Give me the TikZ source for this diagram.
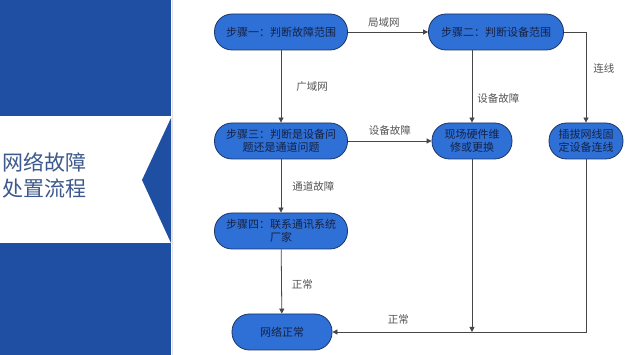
\documentclass[tikz,border=0pt]{standalone}
\usepackage{fontspec}
\newfontfamily\cjk{Noto Sans CJK SC}
\usetikzlibrary{arrows.meta}
\definecolor{panel}{RGB}{31,79,163}
\definecolor{nodefill}{RGB}{46,112,214}
\definecolor{nodeline}{RGB}{28,52,100}
\definecolor{nodetext}{RGB}{22,34,70}
\definecolor{lblc}{RGB}{85,85,85}
\definecolor{titlec}{RGB}{60,88,140}
\definecolor{linec}{RGB}{70,70,70}
\begin{document}
\begin{tikzpicture}[x=1pt,y=-1pt,
  box/.style={draw=nodeline, line width=0.8pt, fill=nodefill, rounded corners=17.5pt,
    minimum height=36pt, inner sep=0pt, align=center, text=nodetext,
    font=\cjk\fontsize{11}{13}\selectfont},
  lbl/.style={text=lblc, inner sep=1pt, font=\cjk\fontsize{10.5}{12}\selectfont},
  conn/.style={draw=linec, line width=0.8pt, -{Triangle[length=5pt,width=5pt]}},
  plain/.style={draw=linec, line width=0.8pt}]
\useasboundingbox (0,0) rectangle (640,355);
\fill[white] (0,0) rectangle (640,355);
% left panel
\fill[panel] (0,0) rectangle (171,355);
\fill[white] (0,116) rectangle (171,243);
\fill[panel] (171,118) -- (142,180) -- (171,243) -- cycle;
\draw[black!12, line width=0.6pt] (172,0) -- (172,355);
\node[anchor=west, align=left, text=titlec, inner sep=0pt,
  font=\cjk\fontsize{21}{26}\selectfont] (title) at (2,175) {网络故障\\处置流程};
% nodes
\node[box, minimum width=133pt] (s1) at (281,32) {步骤一：判断故障范围};
\node[box, minimum width=135pt] (s2) at (496,32) {步骤二：判断设备范围};
\node[box, minimum width=133pt] (s3) at (281,141) {步骤三：判断是设备问\\题还是通道问题};
\node[box, minimum width=80pt] (hw) at (472,141) {现场硬件维\\修或更换};
\node[box, minimum width=74pt] (plug) at (586,141) {插拔网线固\\定设备连线};
\node[box, minimum width=133pt] (s4) at (281,231) {步骤四：联系通讯系统\\厂家};
\node[box, minimum width=100pt] (ok) at (282,332) {网络正常};
\coordinate (hwend) at (hw.south |- ok.east);
% connectors
\draw[conn] (s1) -- node[lbl, above=3pt, pos=0.45] {局域网} (s2);
\draw[conn] (s1) -- node[lbl, right=14pt, pos=0.5] {广域网} (s3);
\draw[conn] (s2.south -| hw) -- node[lbl, right=4pt, pos=0.66] {设备故障} (hw);
\draw[conn] (s2.east) -| node[lbl, right=6pt, pos=0.7] {连线} (plug.north);
\draw[conn] (s3) -- node[lbl, above=4pt] {设备故障} (hw);
\draw[conn] (s3) -- node[lbl, right=10pt] {通道故障} (s4);
\draw[conn] (s4) -- node[lbl, right=9pt, pos=0.55] {正常} (ok);
\draw[conn] (hw) -- (hwend);
\draw[conn] (plug.south) |- node[lbl, above=6pt, pos=0.87] {正常} (ok.east);
\end{tikzpicture}
\end{document}
